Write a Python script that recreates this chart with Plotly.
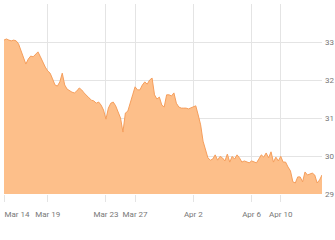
import plotly.graph_objects as go
import pandas as pd

# trading days (weekends removed), 6 samples per day every 4 hours
trading_days = ["2018-03-14", "2018-03-15", "2018-03-16", "2018-03-19", "2018-03-20",
                "2018-03-21", "2018-03-22", "2018-03-23", "2018-03-26", "2018-03-27",
                "2018-03-28", "2018-03-29", "2018-03-30", "2018-04-02", "2018-04-03",
                "2018-04-04", "2018-04-05", "2018-04-06", "2018-04-09", "2018-04-10",
                "2018-04-11", "2018-04-12"]
sample_hours = [0, 4, 8, 12, 16, 20]

price = [
    33.05, 33.08, 33.05, 33.03, 33.05, 33.03,
    32.95, 32.79, 32.63, 32.42, 32.55, 32.63,
    32.61, 32.68, 32.74, 32.61, 32.47, 32.34,
    32.24, 32.18, 32.03, 31.87, 31.84, 31.95,
    32.18, 31.87, 31.76, 31.71, 31.68, 31.66,
    31.71, 31.79, 31.74, 31.66, 31.58, 31.53,
    31.47, 31.45, 31.39, 31.42, 31.34, 31.21,
    30.97, 31.26, 31.39, 31.42, 31.32, 31.18,
    31.00, 30.63, 31.13, 31.18, 31.37, 31.61,
    31.82, 31.74, 31.74, 31.87, 31.95, 31.89,
    32.00, 32.05, 31.61, 31.50, 31.55, 31.34,
    31.29, 31.61, 31.61, 31.58, 31.66, 31.39,
    31.29, 31.26, 31.26, 31.26, 31.24, 31.26,
    31.29, 31.32, 31.08, 30.82, 30.39, 30.13,
    29.95, 29.89, 29.92, 30.03, 29.89, 29.99,
    29.95, 29.87, 30.05, 29.84, 29.99, 29.92,
    30.03, 29.95, 29.84, 29.87, 29.84, 29.82,
    29.87, 29.84, 29.82, 29.92, 30.03, 29.97,
    30.08, 29.95, 30.11, 29.84, 29.97, 29.87,
    29.99, 29.84, 29.84, 29.71, 29.61, 29.32,
    29.29, 29.45, 29.45, 29.32, 29.58, 29.50,
    29.53, 29.55, 29.50, 29.29, 29.37, 29.50,
]

tick_dates = ["2018-03-14", "2018-03-19", "2018-03-23", "2018-03-27",
              "2018-04-02", "2018-04-06", "2018-04-10"]
tick_text = ["Mar 14", "Mar 19", "Mar 23", "Mar 27", "Apr 2", "Apr 6", "Apr 10"]
y_ticks = [29, 30, 31, 32, 33, 34]
y_text = ["29", "30", "31", "32", "33", ""]

times = [pd.Timestamp(d) + pd.Timedelta(hours=h) for d in trading_days for h in sample_hours]
tick_ts = [pd.Timestamp(t) for t in tick_dates]

font_family = "Roboto, sans-serif"
grid = "#E4E4E4"

fig = go.Figure()
fig.add_trace(go.Scatter(
    x=times, y=price, mode="lines",
    line=dict(color="#F59E5C", width=1),
    fill="tozeroy", fillcolor="#FDBF8A",
    hoverinfo="skip",
))
# invisible trace so the overlay axis (first label, drawn right of its tick) is rendered
fig.add_trace(go.Scatter(
    x=[times[0], times[-1]], y=[None, None], xaxis="x2", mode="lines",
    hoverinfo="skip", showlegend=False,
))

fig.update_layout(
    width=335, height=240,
    margin=dict(l=4, r=13, t=4, b=46),
    paper_bgcolor="white", plot_bgcolor="white",
    showlegend=False,
    font=dict(family=font_family, size=8, color="#777777"),
    xaxis=dict(
        type="date",
        range=[times[0], times[-1]],
        rangebreaks=[dict(bounds=["sat", "mon"])],
        tickvals=tick_ts[1:],
        ticktext=tick_text[1:],
        tickangle=0,
        showgrid=True, gridcolor=grid, gridwidth=1,
        ticks="outside", ticklen=7, tickcolor=grid,
        showline=False, zeroline=False,
        ticklabelstandoff=5,
        automargin=False,
    ),
    xaxis2=dict(
        type="date",
        overlaying="x", side="bottom",
        range=[times[0], times[-1]],
        rangebreaks=[dict(bounds=["sat", "mon"])],
        tickvals=tick_ts[:1],
        ticktext=tick_text[:1],
        tickangle=0,
        ticklabelposition="outside right",
        showgrid=True, gridcolor=grid, gridwidth=1,
        ticks="outside", ticklen=7, tickcolor=grid,
        showline=False, zeroline=False,
        ticklabelstandoff=12,
        automargin=False,
    ),
    yaxis=dict(
        side="right",
        range=[29, 34],
        tickvals=y_ticks, ticktext=y_text,
        showgrid=True, gridcolor=grid, gridwidth=1,
        ticks="", showline=False, zeroline=False,
        ticklabelstandoff=2,
        automargin=False,
    ),
)

fig.write_html("out.html")
